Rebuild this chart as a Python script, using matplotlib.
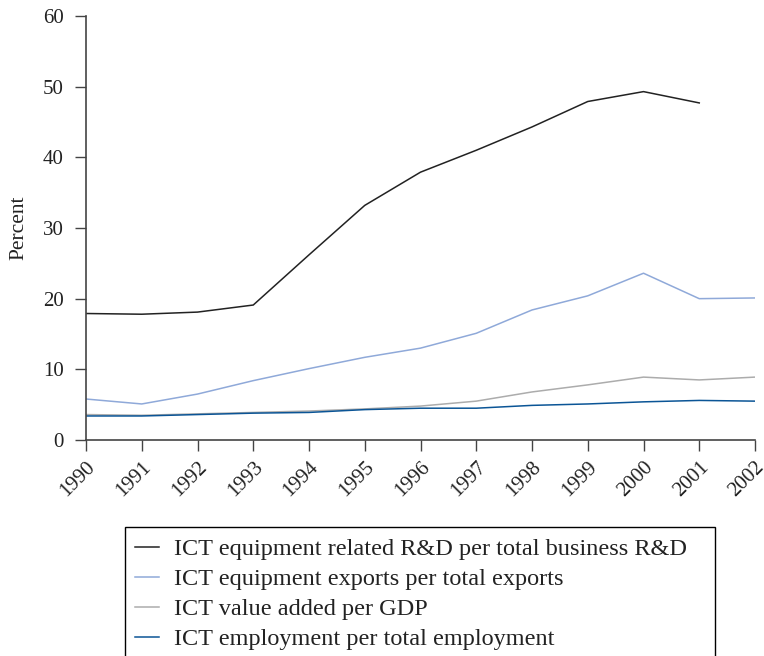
import matplotlib
matplotlib.use("Agg")
import matplotlib.pyplot as plt
from matplotlib.patches import Rectangle

years = [1990, 1991, 1992, 1993, 1994, 1995, 1996, 1997, 1998, 1999, 2000, 2001, 2002]
rd_years = years[:-1]
rd_share = [17.9, 17.8, 18.1, 19.1, 26.2, 33.2, 37.9, 41.0, 44.3, 47.9, 49.3, 47.7]
exports_share = [5.8, 5.1, 6.5, 8.4, 10.1, 11.7, 13.0, 15.1, 18.4, 20.4, 23.6, 20.0, 20.1]
value_added = [3.6, 3.5, 3.7, 3.9, 4.1, 4.4, 4.8, 5.5, 6.8, 7.8, 8.9, 8.5, 8.9]
employment = [3.4, 3.4, 3.6, 3.8, 3.9, 4.3, 4.5, 4.5, 4.9, 5.1, 5.4, 5.6, 5.5]
labels = ["ICT equipment related R&D per total business R&D",
          "ICT equipment exports per total exports",
          "ICT value added per GDP",
          "ICT employment per total employment"]
yticks = [0, 10, 20, 30, 40, 50, 60]

plt.rcParams['font.family'] = ['Liberation Serif', 'DejaVu Serif']

W, H = 764, 656
fig = plt.figure(figsize=(W/100, H/100), dpi=100)
ax = fig.add_axes([86/W, 1-440/H, (755-86)/W, (440-16)/H])

ax.plot(rd_years, rd_share, color='#222222', lw=1.1, label=labels[0])
ax.plot(years, exports_share, color='#8fa9d9', lw=1.1, label=labels[1])
ax.plot(years, value_added, color='#acacac', lw=1.1, label=labels[2])
ax.plot(years, employment, color='#0b5596', lw=1.1, label=labels[3])

ax.set_xlim(1990, 2002)
ax.set_ylim(0, 60)
ax.set_yticks(yticks)
ax.set_xticks(years)
ax.set_xticklabels([str(y) for y in years], rotation=45, ha='right', va='top',
                   rotation_mode='anchor', fontsize=15)
ax.tick_params(axis='y', labelsize=15, length=8, width=1, color='#444444', pad=8,
               labelcolor='#222222')
ax.tick_params(axis='x', length=8, width=1, color='#444444', pad=5, labelcolor='#222222')
for s in ['top', 'right']:
    ax.spines[s].set_visible(False)
for s in ['left', 'bottom']:
    ax.spines[s].set_color('#444444')
    ax.spines[s].set_linewidth(1.2)
ax.set_ylabel('Percent', fontsize=15.5, color='#222222')
ax.yaxis.set_label_coords(-0.086, 0.5)

# legend frame (extends past the bottom edge as in the reference)
fig.patches.append(Rectangle((125/W, -0.02), (715-125)/W, (1-527/H) + 0.02,
                             transform=fig.transFigure, fill=False,
                             edgecolor='black', lw=1.0))
leg = fig.legend(loc='upper left', bbox_to_anchor=(135/W, 1-538/H), fontsize=17.5,
                 frameon=False, handlelength=1.0, handletextpad=0.6,
                 borderpad=0.0, labelspacing=0.33, borderaxespad=0)
for t in leg.get_texts():
    t.set_color('#222222')

fig.savefig('out.png', dpi=100)
